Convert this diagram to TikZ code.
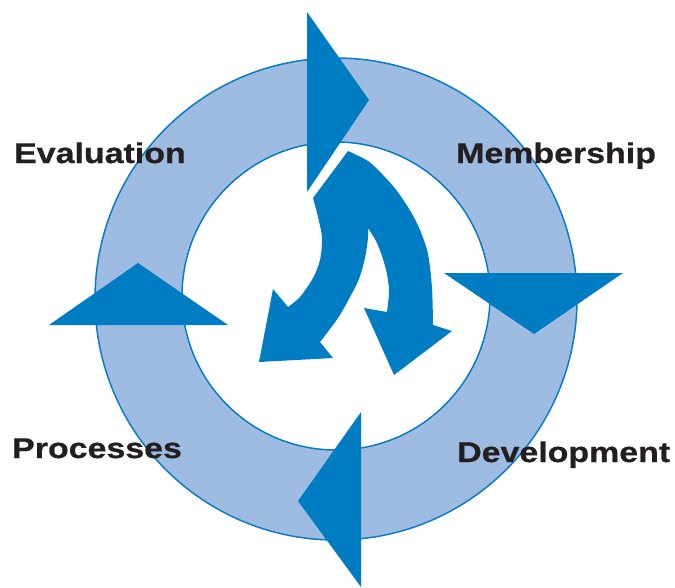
\documentclass[tikz,border=0pt]{standalone}
\usepackage{fontspec}
\setmainfont{Liberation Sans}
\newfontfamily\lblfont[FakeBold=0.6]{Liberation Sans Bold}
\definecolor{ringfill}{HTML}{9EBCE2}
\definecolor{ringline}{HTML}{0A7CC2}
\definecolor{arrowblue}{HTML}{007CC2}
\definecolor{labeltext}{HTML}{231F20}
\tikzset{
  lbl/.style={anchor=base west, inner sep=0pt, text=labeltext,
    font=\lblfont\fontsize{28.5}{30}\selectfont},
  tri/.style={fill=arrowblue},
}
\newcommand{\widelbl}[1]{\scalebox{1.19}[1]{#1}}
\begin{document}
\begin{tikzpicture}[x=1pt,y=-1pt]
\useasboundingbox (0,0) rectangle (675,587);
% ring
\fill[ringfill,even odd rule] (336,299) circle (241) (336,296) circle (154);
\draw[ringline,line width=1.5pt] (336,299) circle (241);
\draw[ringline,line width=1.5pt] (336,296) circle (154);
% triangles
\fill[tri] (307,12) -- (369,100) -- (307,192) -- cycle;
\fill[tri] (444,273) -- (623,273) -- (534,334) -- cycle;
\fill[tri] (361,412) -- (361,587) -- (298,501) -- cycle;
\fill[tri] (49,325) -- (228,325) -- (138,263) -- cycle;
% central curved double arrow
\fill[arrowblue] (348,151) -- (313,198)
  -- plot[smooth] coordinates {(313,198) (318,217) (322,238) (320,260) (313,278) (300,297) (288,307)}
  -- (273,289) -- (259,362) -- (333,358) -- (320,342)
  -- plot[smooth] coordinates {(320,342) (338,318) (350,297) (359,279) (365,258) (368,238) (368,228)}
  -- plot[smooth] coordinates {(368,228) (376,241) (382,256) (387,274) (389,292) (387,312)}
  -- (364,308) -- (394,375) -- (452,331) -- (433,325)
  -- plot[smooth] coordinates {(433,325) (432,288) (428,254) (420,230) (411,212) (397,191) (383,175) (368,161) (348,151)}
  -- cycle;
% labels
\node[lbl] (evaluation) at (14,163) {\widelbl{Evaluation}};
\node[lbl] (membership) at (456,163) {\widelbl{Membership}};
\node[lbl] (processes) at (12,458) {\widelbl{Processes}};
\node[lbl] (development) at (457,462) {\widelbl{Development}};
\end{tikzpicture}
\end{document}
